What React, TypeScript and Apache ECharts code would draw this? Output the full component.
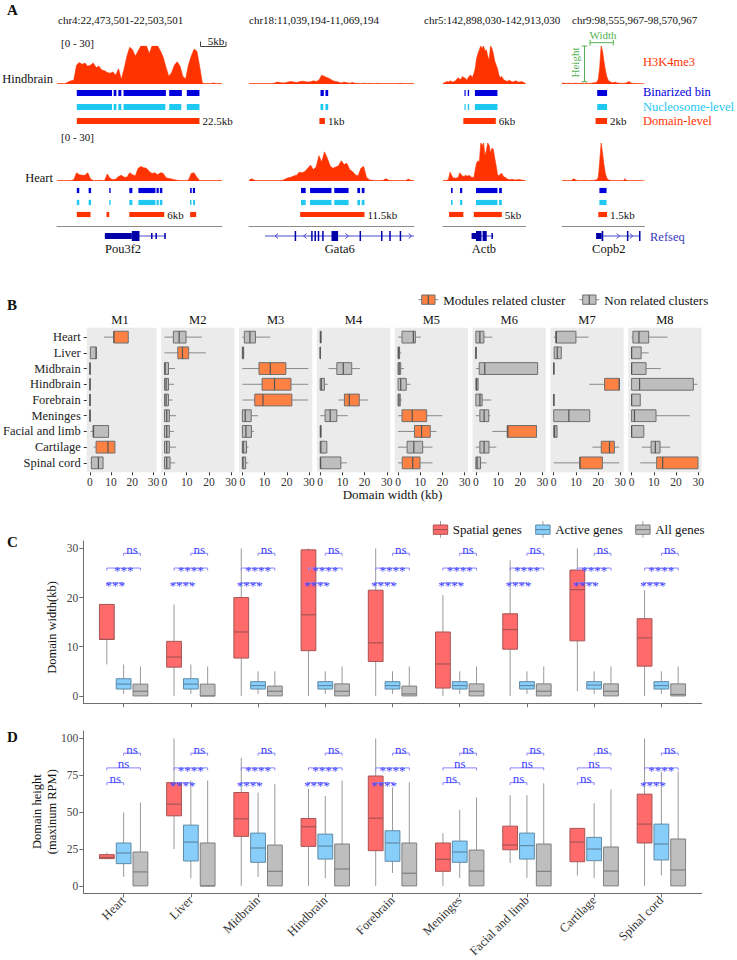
import React, { useEffect, useRef } from "react";
import * as echarts from "echarts";

const FONT = "Liberation Serif";

/* ================= Panel A data ================= */
const regionNames = [
  "chr4:22,473,501-22,503,501",
  "chr18:11,039,194-11,069,194",
  "chr5:142,898,030-142,913,030",
  "chr9:98,555,967-98,570,967",
];
const regionSpanKb = [30, 30, 15, 15];
const trackTissues = ["Hindbrain", "Heart"];
const trackScaleLabel = "[0 - 30]";
const trackLegend = ["H3K4me3", "Binarized bin", "Nucleosome-level", "Domain-level"];

// H3K4me3 signal (RPM), equal-width genomic bins across each region
const hindbrainSignalChr4 = [
  0.3, 0.3, 0.3, 0.4, 1.5, 2.5, 3, 15, 17, 15.5,
  16.5, 14, 15, 16.5, 13, 14, 11, 10.5, 9, 8.5,
  9.5, 7, 12, 3.5, 12, 22, 29, 27, 22, 26,
  30, 30, 30, 24, 30, 30, 30, 26, 21, 13,
  6, 9, 15, 17.5, 14, 6, 4, 15, 22, 27.5,
  26, 14, 0.5, 0.3, 0.3, 0.4, 0.8, 0.3, 0.3, 0.3,
];
const hindbrainSignalChr18 = [
  0.4, 0.3, 0.4, 0.3, 0.3, 0.4, 0.3, 0.3, 0.4, 0.5,
  1.5, 1.2, 0.8, 1.0, 1.6, 2.0, 1.5, 1.2, 1.8, 2.2,
  2.0, 1.5, 1.8, 2.5, 2.0, 3.0, 7.0, 6.0, 5.0, 4.0,
  2.5, 2.0, 1.5, 0.8, 1.5, 1.0, 0.6, 1.2, 0.5, 0.5,
  0.4, 0.6, 0.4, 0.5, 0.4, 0.4, 0.5, 0.4, 0.3, 0.4,
  0.4, 0.3, 0.4, 0.3, 0.5, 0.4, 0.3, 0.4, 0.3, 0.3,
];
const hindbrainSignalChr5 = [
  0.5, 1, 1.5, 2, 1.5, 2.5, 2, 1.5, 2, 2.5,
  4, 5, 3.5, 4, 6, 5, 4.5, 3, 5, 6.5,
  7, 5, 8, 12, 20, 24, 27, 30, 28, 30,
  26, 27, 22, 19, 30, 28, 24, 18, 15, 12,
  7, 5, 6, 4, 3, 2.5, 2, 3, 2.5, 2,
  1.5, 2, 2.5, 2, 1.5, 1.5, 2, 1.5, 1, 0.5,
];
const hindbrainSignalChr9 = [
  0.5, 0.8, 0.5, 0.4, 0.5, 0.6, 0.5, 0.4, 0.5, 0.6,
  0.5, 0.5, 0.4, 0.6, 0.5, 0.5, 0.4, 0.5, 0.6, 0.5,
  0.4, 0.5, 0.8, 1, 1.2, 1.5, 4, 14, 30, 26,
  18, 11, 6, 3, 2, 1.5, 1, 1.2, 1.5, 1,
  0.8, 0.6, 0.5, 0.6, 0.5, 0.6, 0.8, 1.5, 2, 1,
  0.6, 0.5, 0.4, 0.5, 0.3, 0.3, 0.3, 0.2, 0.2, 0.2,
];
const heartSignalChr4 = [
  0.3, 0.3, 0.4, 0.3, 0.3, 0.4, 1, 6.5, 5, 4.5,
  4.5, 6.5, 1.5, 0.4, 0.3, 0.5, 0.4, 0.3, 5.5, 2,
  1, 1.5, 3.5, 4.5, 3, 3, 6.5, 5, 4, 10,
  11.5, 10.5, 10, 7.5, 6, 6.5, 5, 6.5, 6, 2.5,
  2, 1.5, 1, 0.5, 0.4, 0.3, 0.4, 0.5, 6, 6.5,
  3, 0.4, 0.3, 0.3, 0.4, 0.3, 0.3, 0.4, 0.3, 0.3,
];
const heartSignalChr18 = [
  0.5, 1.8, 0.5, 0.3, 0.3, 0.4, 0.3, 0.3, 0.4, 0.3,
  0.3, 0.4, 0.5, 1.5, 2.5, 3, 4, 4.5, 7, 6.5,
  7.5, 10, 12.5, 9, 11, 20, 15, 23, 18, 12,
  10, 11, 12, 16, 13, 14, 9, 7.5, 5, 4,
  10, 11.5, 3, 1, 0.5, 0.4, 0.3, 0.4, 0.5, 1.8,
  0.5, 0.3, 0.4, 0.3, 0.3, 0.4, 0.3, 1.5, 0.4, 0.3,
];
const heartSignalChr5 = [
  0.4, 0.5, 0.4, 0.6, 1.5, 7, 5, 2.5, 2.5, 2,
  2.5, 3, 6.5, 5, 4, 3.5, 4.5, 4, 4, 4.5,
  3, 3, 2.5, 8.5, 14, 16, 15, 30, 28, 30,
  20, 24, 30, 28, 22, 26, 25, 18, 12, 5,
  4, 5.5, 6, 4, 3, 2.5, 1.5, 1.2, 1, 1.3,
  1.2, 1, 0.8, 1, 1.2, 1, 0.8, 0.6, 0.5, 0.4,
];
const heartSignalChr9 = [
  0.3, 0.3, 0.4, 0.3, 0.3, 0.4, 0.3, 0.3, 1.8, 1.2,
  0.8, 0.4, 0.3, 0.3, 0.4, 0.3, 0.5, 0.4, 0.3, 0.3,
  0.4, 0.5, 0.4, 0.6, 0.8, 1.0, 3, 16, 30, 22,
  13, 6, 2.5, 1, 0.6, 0.5, 0.4, 0.3, 0.4, 0.3,
  0.3, 0.4, 0.3, 0.3, 0.4, 1.8, 0.6, 0.3, 0.3, 0.4,
  0.3, 0.3, 0.3, 0.3, 0.4, 0.3, 0.3, 0.2, 0.2, 0.2,
];

// Called intervals (kb from region start), one list per region
const hindbrainBinarized = [
  [[3.6, 10.0], [10.3, 10.8], [11.15, 11.7], [12.1, 19.8], [20.4, 22.7], [23.6, 25.9]],
  [[13.0, 13.6], [13.9, 14.4]],
  [[3.9, 4.1], [4.5, 4.75], [5.8, 9.9]],
  [[6.4, 8.2]],
];
const hindbrainNucleosome = [
  [[3.6, 10.0], [10.3, 10.8], [11.15, 11.7], [12.1, 19.7], [20.4, 22.6], [23.6, 25.9]],
  [[13.0, 13.5], [13.9, 14.4]],
  [[3.9, 4.1], [4.5, 4.75], [5.8, 9.9]],
  [[6.4, 8.2]],
];
const hindbrainDomain = [[[3.6, 25.9]], [[12.8, 13.8]], [[3.7, 9.6]], [[6.1, 8.2]]];
const hindbrainDomainLabels = ["22.5kb", "1kb", "6kb", "2kb"];
const hindbrainLabelledDomain = [0, 0, 0, 0];

const heartBinarized = [
  [[3.6, 4.05], [5.75, 6.2], [9.5, 9.75], [13.15, 13.7], [14.8, 17.9], [18.1, 18.5], [18.7, 19.15], [24.2, 24.5], [24.7, 25.1]],
  [[9.45, 10.3], [11.1, 15.0], [15.5, 18.1], [19.7, 20.2], [20.5, 21.0]],
  [[1.45, 1.75], [3.1, 3.5], [6.0, 9.9], [10.2, 10.7]],
  [[6.8, 8.1]],
];
const heartNucleosome = [
  [[3.6, 4.05], [5.75, 6.2], [9.5, 9.75], [13.15, 13.7], [14.8, 17.9], [18.1, 18.5], [18.7, 19.15], [24.2, 24.45], [24.75, 25.1]],
  [[9.45, 10.3], [11.1, 15.0], [15.5, 18.1], [19.7, 20.2], [20.5, 21.0]],
  [[1.45, 1.75], [3.1, 3.5], [6.0, 9.9], [10.2, 10.7]],
  [[6.8, 8.1]],
];
const heartDomain = [
  [[3.6, 6.1], [9.0, 9.5], [13.15, 19.5], [24.2, 25.3]],
  [[9.3, 21.0]],
  [[1.1, 3.7], [5.6, 10.7]],
  [[6.6, 8.2]],
];
const heartDomainLabels = ["6kb", "11.5kb", "5kb", "1.5kb"];
const heartLabelledDomain = [2, 0, 1, 0];

// Refseq gene models: [startKb, endKb, kind] kind 0 intron, 1 UTR, 2 CDS, 3 strand >, 4 strand <
const geneNames = ["Pou3f2", "Gata6", "Actb", "Copb2"];
const geneNameKb = [12.0, 16.5, 7.45, 8.5];
const pou3f2Parts = [[8.7, 19.8, 0], [8.7, 13.6, 1], [13.6, 15.0, 2], [17.1, 17.35, 1], [17.9, 18.15, 1], [19.5, 19.75, 1]];
const gata6Parts = [
  [2.9, 30, 0], [5.0, 5.0, 4], [8.3, 8.5, 2], [10.2, 10.2, 4], [11.3, 11.5, 2], [11.9, 12.1, 2], [12.5, 12.7, 2],
  [13.3, 13.5, 2], [15.0, 16.2, 2], [17.8, 17.8, 3], [20.1, 20.3, 2], [24.0, 24.2, 2], [25.5, 25.7, 2], [27.4, 27.6, 2], [29.3, 29.3, 3],
];
const actbParts = [[5.2, 9.15, 0], [5.2, 6.0, 1], [6.0, 7.0, 2], [7.2, 7.95, 2], [8.8, 8.95, 1]];
const copb2Parts = [[6.2, 14.2, 0], [6.2, 7.2, 1], [7.2, 7.5, 2], [10.2, 10.2, 3], [11.8, 11.95, 2], [12.6, 12.6, 3], [14.0, 14.2, 2]];

/* ================= Panel B data ================= */
const tissueNames = ["Heart", "Liver", "Midbrain", "Hindbrain", "Forebrain", "Meninges", "Facial and limb", "Cartilage", "Spinal cord"];
const moduleNames = ["M1", "M2", "M3", "M4", "M5", "M6", "M7", "M8"];
const widthTicks = [0, 10, 20, 30];
// [min, q1, median, q3, max] per tissue
const m1Widths = [[6.6, 11.3, 11.3, 18.1, 18.1], [0, 0.2, 2.9, 3.0, 3.4], [0, 0, 0, 0, 0.1], [0, 0, 0, 0, 0.1], [0, 0, 0, 0, 0.1], [0, 0, 0, 0, 0.1], [0.3, 1.5, 1.7, 8.8, 8.8], [1.8, 2.9, 8.5, 11.8, 11.8], [0.3, 0.7, 4.0, 6.2, 6.2]];
const m2Widths = [[0, 4.0, 6.6, 9.7, 16.8], [0, 6.0, 8.1, 10.9, 18.6], [0, 0, 0.3, 1.8, 4.8], [0, 0, 0.7, 1.8, 4.3], [0, 0, 0.7, 1.8, 3.7], [0, 0, 1.0, 2.2, 5.2], [0, 0, 1.0, 2.2, 4.3], [0, 0, 1.0, 2.2, 5.2], [0, 0, 1.0, 2.5, 4.8]];
const m3Widths = [[0, 0.9, 3.4, 5.9, 12.6], [0, 0, 0.3, 0.6, 0.9], [0, 7.5, 12.6, 19.6, 29.7], [0, 8.9, 14.5, 21.9, 29.7], [0, 5.6, 9.3, 22.3, 29.7], [0, 0, 1.3, 4.0, 7.1], [0, 0, 1.6, 4.1, 5.3], [0, 0, 0.4, 1.9, 2.8], [0, 0, 0.3, 1.5, 2.7]];
const m4Widths = [[0, 0, 0.2, 0.4, 0.5], [0, 0, 0, 0, 0.1], [3.7, 7.5, 10.4, 14.2, 17.9], [0, 0, 0.5, 1.9, 3.4], [8.2, 10.9, 13.1, 17.6, 21.6], [0, 2.2, 4.5, 7.5, 12.4], [0, 0, 0.2, 0.4, 0.5], [0, 0, 0.3, 3.0, 3.0], [0, 0, 0.2, 9.3, 12.0]];
const m5Widths = [[0, 1.8, 6.9, 7.8, 10.3], [0, 0, 0.3, 0.7, 1.5], [0, 0, 0.5, 1.2, 2.7], [0, 0, 1.2, 3.7, 5.6], [0, 0, 0.4, 1.0, 1.8], [0, 1.8, 6.4, 12.9, 19.9], [0, 7.4, 10.6, 14.5, 17.3], [0, 4.1, 7.1, 11.1, 15.5], [0, 1.9, 6.6, 9.9, 15.5]];
const m6Widths = [[0, 0, 1.8, 3.6, 7.4], [0, 0, 0, 0, 0.1], [0, 1.5, 4.0, 27.8, 27.8], [0, 0, 0.3, 1.0, 1.0], [0, 0, 1.8, 2.8, 7.0], [0, 1.8, 3.7, 5.8, 6.5], [7.4, 14.1, 14.4, 27.3, 27.3], [0, 1.8, 3.7, 5.9, 9.2], [0, 0, 0.5, 2.1, 4.8]];
const m7Widths = [[0, 0.9, 1.2, 10.0, 15.7], [0, 0.2, 1.6, 3.4, 3.4], [0, 0, 0, 0, 0.1], [16.0, 22.9, 29.5, 29.5, 29.5], [0, 0, 0, 0, 0.1], [0, 0, 6.8, 16.2, 16.2], [0, 0, 0.4, 1.5, 1.5], [17.4, 21.4, 25.1, 27.3, 29.5], [0, 11.8, 11.8, 21.9, 29.5]];
const m8Widths = [[0, 0.6, 3.3, 7.7, 16.2], [0, 0, 0, 4.3, 7.7], [0, 0, 0, 6.5, 13.2], [0, 0, 3.6, 27.8, 29.6], [0, 0, 0, 3.9, 3.9], [0, 0, 1.3, 11.0, 26.2], [0, 0, 0, 5.5, 5.5], [4.6, 8.8, 10.7, 12.8, 17.4], [3.9, 11.3, 14.0, 29.9, 29.9]];
const moduleRelated = [[0, 7], [1], [2, 3, 4], [4], [5, 6, 8], [6], [3, 7, 8], [8]];

/* ================= Panels C & D data ================= */
const spatialWidth = [[6.4, 11.5, 11.5, 18.6, 18.6], [0, 5.85, 7.9, 11.1, 18.6], [0, 7.7, 13.0, 20.0, 30.0], [0, 9.2, 16.5, 29.7, 30.0], [0, 7.0, 10.8, 21.5, 30.0], [0, 1.6, 6.5, 13.0, 20.5], [0, 9.5, 13.5, 16.7, 27.6], [0.95, 11.2, 21.6, 25.6, 30.0], [0, 6.05, 11.8, 15.7, 21.5]];
const activeWidth = [[0.4, 1.4, 2.4, 3.5, 6.4], [0.4, 1.4, 2.4, 3.5, 6.4], [0.4, 1.4, 2.1, 2.9, 5.0], [0.4, 1.4, 2.1, 2.9, 5.0], [0.4, 1.4, 2.1, 2.9, 5.0], [0.4, 1.4, 2.1, 2.9, 5.0], [0.4, 1.4, 2.1, 2.9, 5.0], [0.4, 1.4, 2.2, 2.9, 5.0], [0.4, 1.4, 2.1, 2.9, 5.0]];
const allWidth = [[0, 0, 0.95, 2.4, 6.0], [0, 0, 0, 2.4, 6.0], [0, 0, 0.95, 2.0, 5.0], [0, 0, 0.95, 2.45, 6.0], [0, 0, 0.4, 2.0, 6.0], [0, 0, 0.95, 2.45, 6.0], [0, 0, 0.95, 2.45, 6.0], [0, 0, 0.95, 2.45, 6.0], [0, 0, 0.3, 2.45, 6.0]];
const spatialHeight = [[18.3, 18.5, 19.3, 21.2, 22.7], [25, 47.5, 55.4, 70, 100], [0, 33.6, 45.5, 63.3, 86.9], [0, 26.8, 40.1, 45.7, 65.8], [0, 23.9, 45.9, 74.5, 100], [0, 9.9, 18, 29.1, 35.8], [15.5, 24.5, 27.7, 40.5, 61.5], [7, 16.4, 29.7, 39, 39], [0, 29.1, 41.9, 62.2, 100]];
const activeHeight = [[6.1, 15.1, 22.3, 29.1, 49.8], [5.2, 16.9, 29.7, 41.2, 71.4], [6.1, 16, 25.7, 35.8, 63.3], [5.2, 18.2, 27, 35.1, 61], [8.8, 16.7, 29.1, 37.4, 66.7], [5.4, 16, 23, 30.4, 51.6], [5.4, 18.2, 27.3, 35.8, 61.5], [5.4, 17.1, 25, 32.9, 56.1], [7.2, 17.6, 28.4, 41.9, 77.5]];
const allHeight = [[0, 0, 9.5, 23, 56.5], [0, 0, 0, 29.1, 71.4], [0, 0, 9.9, 27.7, 68.9], [0, 0, 11.5, 28.4, 71.4], [0, 0, 8.6, 29.1, 70.3], [0, 0, 10.1, 24.3, 60.1], [0, 0, 9.9, 28.4, 69.6], [0, 0, 10.1, 26.4, 65.5], [0, 0, 10.8, 31.8, 77.5]];
const widthTicksC = [0, 10, 20, 30];
const heightTicksD = [0, 25, 50, 75, 100];
const widthSigSpatialActive = ["***", "****", "****", "****", "****", "****", "****", "****", "****"];
const widthSigSpatialAll = ["***", "****", "****", "****", "****", "****", "****", "****", "****"];
const widthSigActiveAll = ["ns", "ns", "ns", "ns", "ns", "ns", "ns", "ns", "ns"];
const heightSigSpatialActive = ["ns", "****", "****", "****", "****", "ns", "ns", "ns", "****"];
const heightSigSpatialAll = ["ns", "****", "****", "****", "****", "ns", "ns", "ns", "****"];
const heightSigActiveAll = ["ns", "ns", "ns", "ns", "ns", "ns", "ns", "ns", "ns"];
const geneGroups = ["Spatial genes", "Active genes", "All genes"];

/* ================= styles / layout ================= */
const C_SIGNAL = "#ff3300";
const C_BIN = "#0000dd";
const C_NUC = "#1ec8f0";
const C_GENE = "#0000a8";
const C_GENE_LINE = "#4a4ad0";
const C_GREEN = "#52b152";
const C_ORANGE = "#fd8142";
const C_GREYBOX = "#bebebe";
const GROUP_STYLE = [
  { off: -0.25, fill: "#ff6b6b", stroke: "#a65454" },
  { off: 0, fill: "#87cefa", stroke: "#5f8aa6" },
  { off: 0.25, fill: "#bebebe", stroke: "#7f7f7f" },
];
const COL_X0 = [57, 249, 443, 562];
const PX_KB = 5.5;
const TISSUE_LAYOUT = [
  { signalTop: 46, binsTop: 86, binsH: 42, scaleY: 43, labelY: 79 },
  { signalTop: 143, binsTop: 184.5, binsH: 36, scaleY: 137, labelY: 178 },
];

const txt = (text: string, x: number, y: number, o: any = {}) => ({
  type: "text",
  x,
  y,
  rotation: o.rotation || 0,
  silent: true,
  style: {
    text,
    fontSize: o.size || 12,
    fontFamily: FONT,
    fontWeight: o.weight || "normal",
    fill: o.color || "#111",
    textAlign: o.align || "left",
    textVerticalAlign: o.valign || "middle",
    lineHeight: o.lineHeight || undefined,
  },
});
const seg = (points: number[][], stroke: string, lw = 1) => ({
  type: "polyline",
  silent: true,
  shape: { points },
  style: { stroke, lineWidth: lw, fill: "none" },
});

const binRender = (label: string) => (params: any, api: any) => {
  const s = api.value(0), e = api.value(1), row = api.value(2), lab = api.value(3);
  const p0 = api.coord([s, row]);
  const p1 = api.coord([e, row]);
  const h = Math.abs(api.size([0, 1])[1]) * 0.43;
  const fill = [C_BIN, C_NUC, C_SIGNAL][row];
  const children: any[] = [
    { type: "rect", shape: { x: p0[0], y: p0[1] - h / 2, width: Math.max(p1[0] - p0[0], 1.2), height: h }, style: { fill } },
  ];
  if (lab) {
    children.push({
      type: "text",
      x: p1[0] + 3,
      y: p0[1],
      style: { text: label, fontSize: 11, fontFamily: FONT, fill: "#111", textAlign: "left", textVerticalAlign: "middle" },
    });
  }
  return { type: "group", children };
};

const geneRender = (params: any, api: any) => {
  const s = api.value(0), e = api.value(1), kind = api.value(2);
  const p0 = api.coord([s, 0.5]);
  const p1 = api.coord([e, 0.5]);
  const y = p0[1];
  if (kind === 0) return { type: "line", shape: { x1: p0[0], y1: y, x2: p1[0], y2: y }, style: { stroke: C_GENE_LINE, lineWidth: 1 } };
  if (kind === 1 || kind === 2) {
    const h = kind === 1 ? 6 : 10;
    return { type: "rect", shape: { x: p0[0], y: y - h / 2, width: Math.max(p1[0] - p0[0], 1.5), height: h }, style: { fill: C_GENE } };
  }
  const d = kind === 3 ? 1 : -1;
  return {
    type: "polyline",
    shape: { points: [[p0[0] - 1.5 * d, y - 2.5], [p0[0] + 1.5 * d, y], [p0[0] - 1.5 * d, y + 2.5]] },
    style: { stroke: C_GENE_LINE, fill: "none", lineWidth: 1 },
  };
};

const hBoxRender = (params: any, api: any) => {
  const cat = api.value(0);
  const v = [1, 2, 3, 4, 5].map((i) => api.value(i));
  const rel = api.value(6);
  const y = api.coord([0, cat])[1];
  const bh = Math.abs(api.size([0, 1])[1]) * 0.75;
  const X = (val: number) => api.coord([val, cat])[0];
  return {
    type: "group",
    children: [
      { type: "line", shape: { x1: X(v[0]), y1: y, x2: X(v[1]), y2: y }, style: { stroke: "#8a8a8a", lineWidth: 1 } },
      { type: "line", shape: { x1: X(v[3]), y1: y, x2: X(v[4]), y2: y }, style: { stroke: "#8a8a8a", lineWidth: 1 } },
      {
        type: "rect",
        shape: { x: X(v[1]), y: y - bh / 2, width: Math.max(X(v[3]) - X(v[1]), 0.3), height: bh },
        style: { fill: rel ? C_ORANGE : C_GREYBOX, stroke: "#6e6e6e", lineWidth: 1 },
      },
      { type: "line", shape: { x1: X(v[2]), y1: y - bh / 2, x2: X(v[2]), y2: y + bh / 2 }, style: { stroke: "#555", lineWidth: 1.2 } },
    ],
  };
};

const vBoxRender = (fill: string, stroke: string) => (params: any, api: any) => {
  const x = api.value(0);
  const v = [1, 2, 3, 4, 5].map((i) => api.value(i));
  const cx = api.coord([x, 0])[0];
  const Y = (val: number) => api.coord([x, val])[1];
  const bw = api.size([0.22, 0])[0];
  return {
    type: "group",
    children: [
      { type: "line", shape: { x1: cx, y1: Y(v[0]), x2: cx, y2: Y(v[1]) }, style: { stroke: "#9a9a9a", lineWidth: 1 } },
      { type: "line", shape: { x1: cx, y1: Y(v[3]), x2: cx, y2: Y(v[4]) }, style: { stroke: "#9a9a9a", lineWidth: 1 } },
      {
        type: "rect",
        shape: { x: cx - bw / 2, y: Y(v[3]), width: bw, height: Math.max(Y(v[1]) - Y(v[3]), 0.5) },
        style: { fill, stroke, lineWidth: 1 },
      },
      { type: "line", shape: { x1: cx - bw / 2, y1: Y(v[2]), x2: cx + bw / 2, y2: Y(v[2]) }, style: { stroke, lineWidth: 1.2 } },
    ],
  };
};

const PAIRS = [[-0.25, 0], [-0.25, 0.25], [0, 0.25]];
const sigRender = (labels: string[][], levels: number[]) => (params: any, api: any) => {
  const t = api.value(0), pair = api.value(1);
  const [a, b] = PAIRS[pair];
  const lvl = levels[pair];
  const p1 = api.coord([t + 1 + a, lvl]);
  const p2 = api.coord([t + 1 + b, lvl]);
  const text = labels[pair][t];
  const star = text !== "ns";
  return {
    type: "group",
    children: [
      {
        type: "polyline",
        shape: { points: [[p1[0], p1[1] + 2.5], [p1[0], p1[1]], [p2[0], p2[1]], [p2[0], p2[1] + 2.5]] },
        style: { stroke: "#8585ff", fill: "none", lineWidth: 1 },
      },
      {
        type: "text",
        x: (p1[0] + p2[0]) / 2,
        y: star ? p1[1] + 2.5 : p1[1] + 2.5,
        style: {
          text,
          fontSize: 13,
          fontFamily: FONT,
          fill: "#4040ff",
          textAlign: "center",
          textVerticalAlign: star ? "middle" : "bottom",
        },
      },
    ],
  };
};

function buildOption() {
  const grid: any[] = [];
  const xAxis: any[] = [];
  const yAxis: any[] = [];
  const series: any[] = [];
  const graphic: any[] = [];
  const addGrid = (g: any, xa: any, ya: any) => {
    const i = grid.length;
    grid.push(g);
    xAxis.push({ ...xa, gridIndex: i });
    yAxis.push({ ...ya, gridIndex: i });
    return i;
  };
  const hidden = (min: number, max: number, extra: any = {}) => ({
    type: "value",
    min,
    max,
    show: false,
    splitLine: { show: false },
    axisLine: { show: false, onZero: false },
    ...extra,
  });

  /* ---------- Panel A ---------- */
  const signals = [
    [hindbrainSignalChr4, hindbrainSignalChr18, hindbrainSignalChr5, hindbrainSignalChr9],
    [heartSignalChr4, heartSignalChr18, heartSignalChr5, heartSignalChr9],
  ];
  const bins = [
    [hindbrainBinarized, hindbrainNucleosome, hindbrainDomain],
    [heartBinarized, heartNucleosome, heartDomain],
  ];
  const domainLabels = [hindbrainDomainLabels, heartDomainLabels];
  const labelled = [hindbrainLabelledDomain, heartLabelledDomain];

  graphic.push(txt("A", 7, 10, { size: 15, weight: "bold" }));
  const headerX = [58, 249, 424, 572];
  regionNames.forEach((r, c) => graphic.push(txt(r, headerX[c], 20, { size: 11 })));

  TISSUE_LAYOUT.forEach((L, t) => {
    graphic.push(txt(trackTissues[t], 53, L.labelY, { size: 12.5, align: "right" }));
    graphic.push(txt(trackScaleLabel, 61, L.scaleY, { size: 11 }));
    for (let c = 0; c < 4; c++) {
      const span = regionSpanKb[c];
      const w = span * PX_KB;
      const vals = signals[t][c];
      const gs = addGrid(
        { left: COL_X0[c], top: L.signalTop, width: w, height: 38 },
        { type: "category", data: vals.map((_, i) => i), boundaryGap: false, show: false },
        hidden(0, 30)
      );
      series.push({
        type: "line",
        xAxisIndex: gs,
        yAxisIndex: gs,
        data: vals,
        symbol: "none",
        silent: true,
        lineStyle: { width: 0.6, color: C_SIGNAL },
        itemStyle: { color: C_SIGNAL },
        areaStyle: { color: C_SIGNAL, opacity: 1 },
      });
      const gb = addGrid(
        { left: COL_X0[c], top: L.binsTop, width: w, height: L.binsH },
        hidden(0, span),
        hidden(-0.5, 2.5, { inverse: true })
      );
      const data: number[][] = [];
      bins[t].forEach((lvl, row) =>
        lvl[c].forEach((iv, k) => data.push([iv[0], iv[1], row, row === 2 && k === labelled[t][c] ? 1 : 0]))
      );
      series.push({
        type: "custom",
        xAxisIndex: gb,
        yAxisIndex: gb,
        silent: true,
        encode: { x: [0, 1], y: 2 },
        data,
        renderItem: binRender(domainLabels[t][c]),
      });
    }
  });

  const geneParts = [pou3f2Parts, gata6Parts, actbParts, copb2Parts];
  for (let c = 0; c < 4; c++) {
    const span = regionSpanKb[c];
    const gg = addGrid(
      { left: COL_X0[c], top: 226, width: span * PX_KB, height: 20 },
      {
        type: "value",
        min: 0,
        max: span,
        position: "top",
        splitLine: { show: false },
        axisLine: { show: true, onZero: false, lineStyle: { color: "#8c8c8c", width: 1 } },
        axisTick: { show: false },
        axisLabel: { show: false },
      },
      hidden(0, 1)
    );
    series.push({
      type: "custom",
      xAxisIndex: gg,
      yAxisIndex: gg,
      silent: true,
      encode: { x: [0, 1], y: 2 },
      data: geneParts[c],
      renderItem: geneRender,
    });
    series.push({
      type: "custom",
      xAxisIndex: gg,
      yAxisIndex: gg,
      silent: true,
      data: [[geneNameKb[c], 0.5]],
      renderItem: (params: any, api: any) => {
        const p = api.coord([api.value(0), api.value(1)]);
        return {
          type: "text",
          x: p[0],
          y: p[1] + 12.5,
          style: { text: geneNames[c], fontSize: 12.5, fontFamily: FONT, fill: "#111", textAlign: "center", textVerticalAlign: "middle" },
        };
      },
    });
  }
  graphic.push(txt("Refseq", 650, 237, { size: 12.5, color: "#3a3ac0" }));
  const legendColors = [C_SIGNAL, C_BIN, C_NUC, C_SIGNAL];
  const legendY = [62, 91.5, 107, 120.5];
  trackLegend.forEach((l, i) => graphic.push(txt(l, 643, legendY[i], { size: 12.5, color: legendColors[i] })));
  // 5kb scale bar
  graphic.push(seg([[200.5, 41.5], [200.5, 46.5], [226, 46.5], [226, 41.5]], "#444"));
  graphic.push(txt("5kb", 216, 40.5, { size: 11, align: "center" }));
  // width / height schematic
  graphic.push(seg([[590, 40], [590, 45.5]], C_GREEN));
  graphic.push(seg([[590, 42.7], [613.3, 42.7]], C_GREEN));
  graphic.push(seg([[613.3, 40], [613.3, 45.5]], C_GREEN));
  graphic.push(txt("Width", 603, 34.5, { size: 11, align: "center", color: C_GREEN }));
  graphic.push(seg([[581.7, 46], [587.3, 46]], C_GREEN));
  graphic.push(seg([[584.5, 46], [584.5, 81.7]], C_GREEN));
  graphic.push(seg([[581.7, 81.7], [587.3, 81.7]], C_GREEN));
  graphic.push(txt("Height", 575, 62.5, { size: 11, align: "center", color: C_GREEN, rotation: Math.PI / 2 }));

  /* ---------- Panel B ---------- */
  const B_LEFT = 83.3, B_STEP = 77.85, B_W = 73.3, B_TOP = 327.7, B_H = 144.6;
  const tissueIdx = tissueNames.map((_, i) => i);
  const moduleWidths = [m1Widths, m2Widths, m3Widths, m4Widths, m5Widths, m6Widths, m7Widths, m8Widths];
  graphic.push(txt("B", 7, 305, { size: 15, weight: "bold" }));
  moduleWidths.forEach((boxes, k) => {
    const left = B_LEFT + k * B_STEP;
    const gi = addGrid(
      { left, top: B_TOP, width: B_W, height: B_H, show: true, backgroundColor: "#ebebeb", borderWidth: 0 },
      {
        type: "value",
        min: -1.5,
        max: 31.5,
        splitLine: { show: false },
        axisLine: { show: false, onZero: false },
        axisTick: { show: true, customValues: widthTicks, length: 3, lineStyle: { color: "#333" } },
        axisLabel: { customValues: widthTicks, fontSize: 11.5, fontFamily: FONT, color: "#333", margin: 4 },
      },
      {
        type: "value",
        min: -0.6,
        max: 8.6,
        inverse: true,
        splitLine: { show: false },
        axisLine: { show: false, onZero: false },
        axisTick: { show: k === 0, customValues: tissueIdx, length: 3, lineStyle: { color: "#333" } },
        axisLabel: {
          show: k === 0,
          customValues: tissueIdx,
          formatter: (v: number) => tissueNames[Math.round(v)],
          fontSize: 12.5,
          fontFamily: FONT,
          color: "#222",
          margin: 6,
        },
      }
    );
    series.push({
      type: "custom",
      xAxisIndex: gi,
      yAxisIndex: gi,
      silent: true,
      encode: { x: [1, 2, 3, 4, 5], y: 0 },
      data: boxes.map((b, i) => [i, ...b, moduleRelated[k].includes(i) ? 1 : 0]),
      renderItem: hBoxRender,
    });
    graphic.push(txt(moduleNames[k], left + B_W / 2, 320, { size: 12.5, align: "center" }));
  });
  graphic.push(txt("Domain width (kb)", 392.5, 494, { size: 13, align: "center" }));
  // legend B
  const bLegend = [
    { name: "Modules related cluster", x: 421.7, fill: C_ORANGE },
    { name: "Non related clusters", x: 582.7, fill: C_GREYBOX },
  ];
  bLegend.forEach((l) => {
    graphic.push(seg([[l.x - 3.4, 299.7], [l.x + 16.6, 299.7]], "#8a8a8a"));
    graphic.push({ type: "rect", silent: true, shape: { x: l.x, y: 295, width: 13.3, height: 9.3 }, style: { fill: l.fill, stroke: "#6e6e6e", lineWidth: 1 } });
    graphic.push(seg([[l.x + 6.6, 295], [l.x + 6.6, 304.3]], "#555", 1.2));
    graphic.push(txt(l.name, l.x + 21.6, 300, { size: 13 }));
  });

  /* ---------- Panels C & D ---------- */
  const P_LEFT = 83.3, P_W = 618.4;
  const catVals = tissueNames.map((_, i) => i + 1);
  const AX = "#6e6e6e";
  const mkX = (showLabels: boolean) => ({
    type: "value",
    min: 0.4,
    max: 9.6,
    splitLine: { show: false },
    axisLine: { show: true, onZero: false, lineStyle: { color: AX } },
    axisTick: { show: true, customValues: catVals, length: 4, lineStyle: { color: AX } },
    axisLabel: {
      show: showLabels,
      customValues: catVals,
      formatter: (v: number) => tissueNames[Math.round(v) - 1],
      rotate: 45,
      fontSize: 12.5,
      fontFamily: FONT,
      color: "#333",
      margin: 5,
    },
  });
  const mkY = (min: number, max: number, ticks: number[]) => ({
    type: "value",
    min,
    max,
    splitLine: { show: false },
    axisLine: { show: true, onZero: false, lineStyle: { color: AX } },
    axisTick: { show: true, customValues: ticks, length: 4, lineStyle: { color: AX } },
    axisLabel: { customValues: ticks, fontSize: 11.5, fontFamily: FONT, color: "#444", margin: 5 },
  });
  const panels = [
    {
      top: 541, h: 162.3, x: mkX(false), y: mkY(-1.5, 31.5, widthTicksC),
      data: [spatialWidth, activeWidth, allWidth],
      sig: [widthSigSpatialActive, widthSigSpatialAll, widthSigActiveAll], levels: [23, 26, 29],
    },
    {
      top: 731, h: 162.3, x: mkX(true), y: mkY(-5, 105, heightTicksD),
      data: [spatialHeight, activeHeight, allHeight],
      sig: [heightSigSpatialActive, heightSigSpatialAll, heightSigActiveAll], levels: [70, 80, 90],
    },
  ];
  panels.forEach((P) => {
    const gi = addGrid({ left: P_LEFT, top: P.top, width: P_W, height: P.h }, P.x, P.y);
    P.data.forEach((arr, g) => {
      const st = GROUP_STYLE[g];
      series.push({
        type: "custom",
        name: geneGroups[g],
        xAxisIndex: gi,
        yAxisIndex: gi,
        silent: true,
        encode: { x: 0, y: [1, 2, 3, 4, 5] },
        data: arr.map((b, i) => [i + 1 + st.off, ...b]),
        renderItem: vBoxRender(st.fill, st.stroke),
      });
    });
    const pairs: number[][] = [];
    tissueNames.forEach((_, t) => [0, 1, 2].forEach((p) => pairs.push([t, p])));
    series.push({
      type: "custom",
      xAxisIndex: gi,
      yAxisIndex: gi,
      silent: true,
      data: pairs,
      renderItem: sigRender(P.sig, P.levels),
      z: 5,
    });
  });
  graphic.push(txt("C", 7, 542, { size: 15, weight: "bold" }));
  graphic.push(txt("D", 7, 737, { size: 15, weight: "bold" }));
  graphic.push(txt("Domain width(kb)", 51.7, 627.5, { size: 12.5, align: "center", rotation: Math.PI / 2 }));
  graphic.push(txt("Domain height\n(maxinum RPM)", 44, 811.7, { size: 12.5, align: "center", rotation: Math.PI / 2, lineHeight: 15 }));
  const cLegendX = [433.3, 535.7, 635.7];
  geneGroups.forEach((name, g) => {
    const x = cLegendX[g];
    const st = GROUP_STYLE[g];
    graphic.push(seg([[x + 7.2, 521], [x + 7.2, 537.7]], "#9a9a9a"));
    graphic.push({ type: "rect", silent: true, shape: { x, y: 525, width: 14.4, height: 9.3 }, style: { fill: st.fill, stroke: st.stroke, lineWidth: 1 } });
    graphic.push(seg([[x, 529.6], [x + 14.4, 529.6]], st.stroke, 1.2));
    graphic.push(txt(name, x + 19.5, 529.5, { size: 13 }));
  });

  return {
    animation: false,
    backgroundColor: "#ffffff",
    textStyle: { fontFamily: FONT },
    grid,
    xAxis,
    yAxis,
    series,
    graphic: { elements: graphic },
  };
}

export default function App() {
  const ref = useRef<HTMLDivElement>(null);
  useEffect(() => {
    document.body.style.margin = "0";
    const chart = echarts.init(ref.current as HTMLDivElement, null, { renderer: "svg" });
    chart.setOption(buildOption() as any);
    return () => chart.dispose();
  }, []);
  return <div ref={ref} style={{ position: "absolute", left: 0, top: 0, width: 737, height: 960, background: "#fff" }} />;
}
